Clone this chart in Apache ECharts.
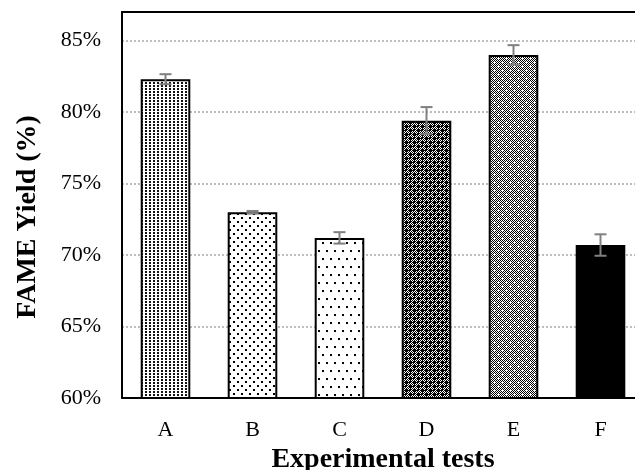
<!DOCTYPE html>
<html>
<head>
<meta charset="utf-8">
<script src="https://cdn.jsdelivr.net/npm/echarts@6/dist/echarts.min.js"></script>
<style>
  html, body { margin: 0; padding: 0; background: #ffffff; }
  #chart { width: 635px; height: 470px; }
</style>
</head>
<body>
<div id="chart"></div>
<script>
// Experimental tests and their FAME yields (%), with standard deviations
const categories = ['A', 'B', 'C', 'D', 'E', 'F'];
const yieldValues = [82.3, 73.0, 71.2, 79.4, 84.0, 70.7];
const yieldErrors = [0.35, 0.08, 0.4, 0.95, 0.68, 0.75];
const yTickLabels = [60, 65, 70, 75, 80, 85];

const SERIF = '"Liberation Serif", "Times New Roman", serif';

// Small repeating bitmap tiles used as bar fills
function makeTile(w, h, draw) {
  const c = document.createElement('canvas');
  c.width = w; c.height = h;
  const ctx = c.getContext('2d');
  ctx.fillStyle = '#ffffff';
  ctx.fillRect(0, 0, w, h);
  ctx.fillStyle = '#000000';
  draw(ctx, w, h);
  return c;
}
function checker(ctx, w, h) {
  for (let y = 0; y < h; y++)
    for (let x = 0; x < w; x++)
      if ((x + y) % 2 === 0) ctx.fillRect(x, y, 1, 1);
}
function plus(ctx, cx, cy, color) {
  ctx.fillStyle = color;
  ctx.fillRect(cx - 1, cy, 3, 1);
  ctx.fillRect(cx, cy - 1, 1, 3);
}

const fills = [
  // dense dots
  makeTile(4, 3, (ctx) => { ctx.fillStyle = '#111'; ctx.fillRect(1, 1, 2, 2); }),
  // medium staggered dots
  makeTile(8, 8, (ctx) => { ctx.fillRect(1, 1, 2, 2); ctx.fillRect(5, 5, 2, 2); }),
  // sparse staggered dots
  makeTile(8, 16, (ctx) => { ctx.fillRect(2, 2, 2, 2); ctx.fillRect(6, 10, 2, 2); }),
  // dark checker with black crosses
  makeTile(8, 8, (ctx, w, h) => {
    checker(ctx, w, h);
    plus(ctx, 2, 2, '#000'); plus(ctx, 6, 6, '#000');
    ctx.fillRect(5, 1, 2, 2); ctx.fillRect(1, 5, 2, 2);
    ctx.fillRect(0, 0, 1, 1); ctx.fillRect(4, 4, 1, 1);
  }),
  // grey checker with white crosses
  makeTile(8, 8, (ctx, w, h) => { checker(ctx, w, h); plus(ctx, 2, 2, '#fff'); plus(ctx, 6, 6, '#fff'); }),
  // solid
  null
];

const barData = yieldValues.map((v, i) => ({
  value: v,
  itemStyle: {
    color: fills[i] ? { image: fills[i], repeat: 'repeat' } : '#000000'
  }
}));

const errorData = yieldValues.map((v, i) => [i, v, yieldErrors[i]]);

const chart = echarts.init(document.getElementById('chart'), null, { renderer: 'canvas' });

chart.setOption({
  animation: false,
  backgroundColor: '#ffffff',
  grid: { left: 122, top: 12, right: -9, bottom: 72, containLabel: false, outerBoundsMode: 'none' },
  xAxis: [
    {
      type: 'category',
      data: categories,
      position: 'bottom',
      axisLine: { show: true, lineStyle: { color: '#000', width: 2 } },
      axisTick: { show: false },
      axisLabel: { color: '#000', fontFamily: SERIF, fontSize: 22, margin: 21 },
      name: 'Experimental tests',
      nameLocation: 'middle',
      nameGap: 40,
      nameTextStyle: { color: '#000', fontFamily: SERIF, fontSize: 28, fontWeight: 'bold' }
    },
    {
      type: 'category',
      data: categories,
      position: 'top',
      axisLine: { show: true, lineStyle: { color: '#000', width: 2 } },
      axisTick: { show: false },
      axisLabel: { show: false }
    }
  ],
  yAxis: {
    type: 'value',
    min: 60,
    max: 87,
    interval: 5,
    axisLine: { show: true, lineStyle: { color: '#000', width: 2 } },
    axisTick: { show: false },
    axisLabel: {
      color: '#000', fontFamily: SERIF, fontSize: 22, margin: 21,
      formatter: (v) => yTickLabels.includes(Math.round(v * 100) / 100) ? v + '%' : ''
    },
    splitLine: { show: true, lineStyle: { color: '#a6a6a6', width: 1.5, type: [2, 2] } },
    name: 'FAME Yield (%)',
    nameLocation: 'middle',
    nameGap: 80,
    nameTextStyle: { color: '#000', fontFamily: SERIF, fontSize: 28, fontWeight: 'bold', padding: [0, 24, 0, 0] }
  },
  series: [
    {
      type: 'bar',
      data: barData,
      barWidth: '57%',
      itemStyle: { borderColor: '#000', borderWidth: 2 },
      z: 2
    },
    {
      type: 'custom',
      data: errorData,
      encode: { x: 0, y: 1 },
      z: 3,
      renderItem: (params, api) => {
        const i = api.value(0), v = api.value(1), e = api.value(2);
        const hi = api.coord([i, v + e]);
        const lo = api.coord([i, v - e]);
        const half = 6;
        const style = { stroke: '#808080', lineWidth: 2 };
        return {
          type: 'group',
          children: [
            { type: 'line', shape: { x1: hi[0], y1: hi[1], x2: lo[0], y2: lo[1] }, style },
            { type: 'line', shape: { x1: hi[0] - half, y1: hi[1], x2: hi[0] + half, y2: hi[1] }, style },
            { type: 'line', shape: { x1: lo[0] - half, y1: lo[1], x2: lo[0] + half, y2: lo[1] }, style }
          ]
        };
      }
    }
  ]
});
</script>
</body>
</html>
